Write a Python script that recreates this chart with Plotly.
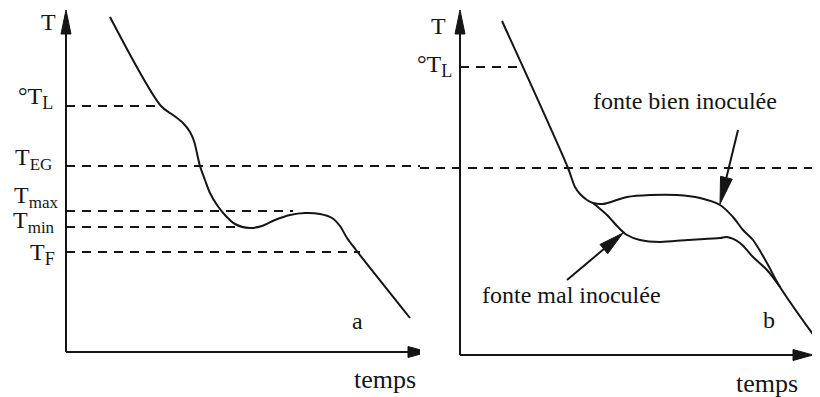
import numpy as np
import plotly.graph_objects as go

INK = "#151515"
FONT = "Liberation Serif"

# panel a : cooling curve (arbitrary units, origin at the axis corner)
a_time = [44, 95, 107, 117, 124, 128, 134, 139, 144, 151, 159, 169, 184,
          196, 209, 224, 239, 254, 266, 274, 281, 290, 344]
a_temp = [335, 246, 237, 229, 220, 211, 186, 172, 159, 147, 137, 128, 124,
          126, 132, 137, 139, 138, 134, 126, 114, 102, 34]

# characteristic temperatures of panel a and where their dashed line stops
a_labels = ["°T", "T", "T", "T", "T"]
a_subs = ["L", "EG", "max", "min", "F"]
a_level_temp = [246, 186, 141, 125, 100]
a_level_end = [95, 354, 227, 171, 294]

# panel b : common start, then well / badly inoculated iron
b_common_time = [42, 108, 115, 120, 127, 133]
b_common_temp = [334, 187, 168, 161, 155, 152]
b_bien_time = [133, 143, 167, 190, 217, 240, 260, 273, 283, 293, 307, 320, 357]
b_bien_temp = [152, 151, 158, 160, 160, 157, 150, 138, 125, 115, 92, 68, 15]
b_mal_time = [133, 147, 158, 167, 180, 200, 227, 260, 267, 280, 293, 307, 320]
b_mal_temp = [152, 140, 128, 120, 115, 113, 115, 117, 118, 112, 98, 85, 68]

b_level_temp = [288, 187]
b_level_start = [0, -40]
b_level_end = [57, 360]

fig = go.Figure()


def line(x, y, ax, dash=None, shape="linear"):
    xa, ya = ("x", "y") if ax == 1 else ("x2", "y2")
    fig.add_trace(go.Scatter(
        x=x, y=y, mode="lines", xaxis=xa, yaxis=ya, hoverinfo="skip",
        line=dict(color=INK, width=2, dash=dash, shape=shape, smoothing=0.9),
    ))


def arrow(x0, y0, x1, y1, ax, length=22, width=10):
    """Straight line ending in a long narrow filled head"""
    dx, dy = x1 - x0, y1 - y0
    n = np.hypot(dx, dy)
    ux, uy = dx / n, dy / n
    bx, by = x1 - ux * length, y1 - uy * length
    px, py = -uy * width / 2, ux * width / 2
    xa, ya = ("x", "y") if ax == 1 else ("x2", "y2")
    line([x0, bx], [y0, by], ax)
    fig.add_trace(go.Scatter(
        x=[x1, bx + px, bx - px, x1], y=[y1, by + py, by - py, y1],
        mode="lines", fill="toself", fillcolor=INK, xaxis=xa, yaxis=ya,
        line=dict(color=INK, width=1), hoverinfo="skip",
    ))


def label(text, x, y, ax, size=24, xanchor="center"):
    xr, yr = ("x", "y") if ax == 1 else ("x2", "y2")
    fig.add_annotation(
        text=text, x=x, y=y, xref=xr, yref=yr, showarrow=False,
        xanchor=xanchor, yanchor="middle",
        font=dict(family=FONT, size=size, color=INK),
    )


def sublabel(main, sub, x, y, ax, sub_size=18):
    """Temperature name with a large subscript, right edge at x"""
    label(main + f"<sub><span style='font-size:{sub_size}px'>" + sub
          + "</span></sub>", x, y, ax, xanchor="right")


# ---- panel a
arrow(0, 0, 0, 342, 1, 24, 10)
arrow(0, 0, 362, 0, 1, 20, 11)
for temp, end in zip(a_level_temp, a_level_end):
    line([0, end], [temp, temp], 1, dash="9px,7px")
line(a_time, a_temp, 1, shape="spline")

label("T", -18, 330, 1)
label_pos = [(-11, 254), (-12, 193), (-6, 155), (-9, 130), (-9, 98)]
sub_sizes = [18, 17, 17, 17, 18]
for main, sub, (x, y), s in zip(a_labels, a_subs, label_pos, sub_sizes):
    sublabel(main, sub, x, y, 1, s)
label("a", 291, 31, 1)
label("temps", 319, -27, 1, size=26)

# ---- panel b
arrow(0, 0, 0, 345, 2, 24, 10)
arrow(0, 0, 353, 0, 2, 20, 11)
for temp, x0, x1 in zip(b_level_temp, b_level_start, b_level_end):
    line([x0, x1], [temp, temp], 2, dash="9px,7px")
line(b_common_time + b_bien_time[1:], b_common_temp + b_bien_temp[1:], 2,
     shape="spline")
line(b_mal_time, b_mal_temp, 2, shape="spline")

arrow(278, 225, 260, 151, 2, 27, 12)
arrow(107, 75, 163, 122, 2, 25, 12)

label("T", -22, 329, 2)
sublabel("°T", "L", -6, 289, 2)
label("fonte bien inoculée", 225, 254, 2)
label("fonte mal inoculée", 111, 60, 2)
label("b", 309, 35, 2)
label("temps", 307, -28, 2, size=26)

# the page body keeps its default 8px margin, so the figure starts at (8, 8)
axis = dict(visible=False, showgrid=False, zeroline=False, fixedrange=True)
split = (420 - 8) / 812
fig.update_layout(
    width=812, height=389,
    margin=dict(l=0, r=0, t=0, b=0),
    paper_bgcolor="white", plot_bgcolor="white",
    showlegend=False,
    xaxis=dict(axis, domain=[0, split], range=[-58, 354]),
    yaxis=dict(axis, domain=[0, 1], range=[-45, 344]),
    xaxis2=dict(axis, domain=[split, 1], range=[-40, 360]),
    yaxis2=dict(axis, domain=[0, 1], range=[-42, 347]),
)

fig.write_html("out.html")
